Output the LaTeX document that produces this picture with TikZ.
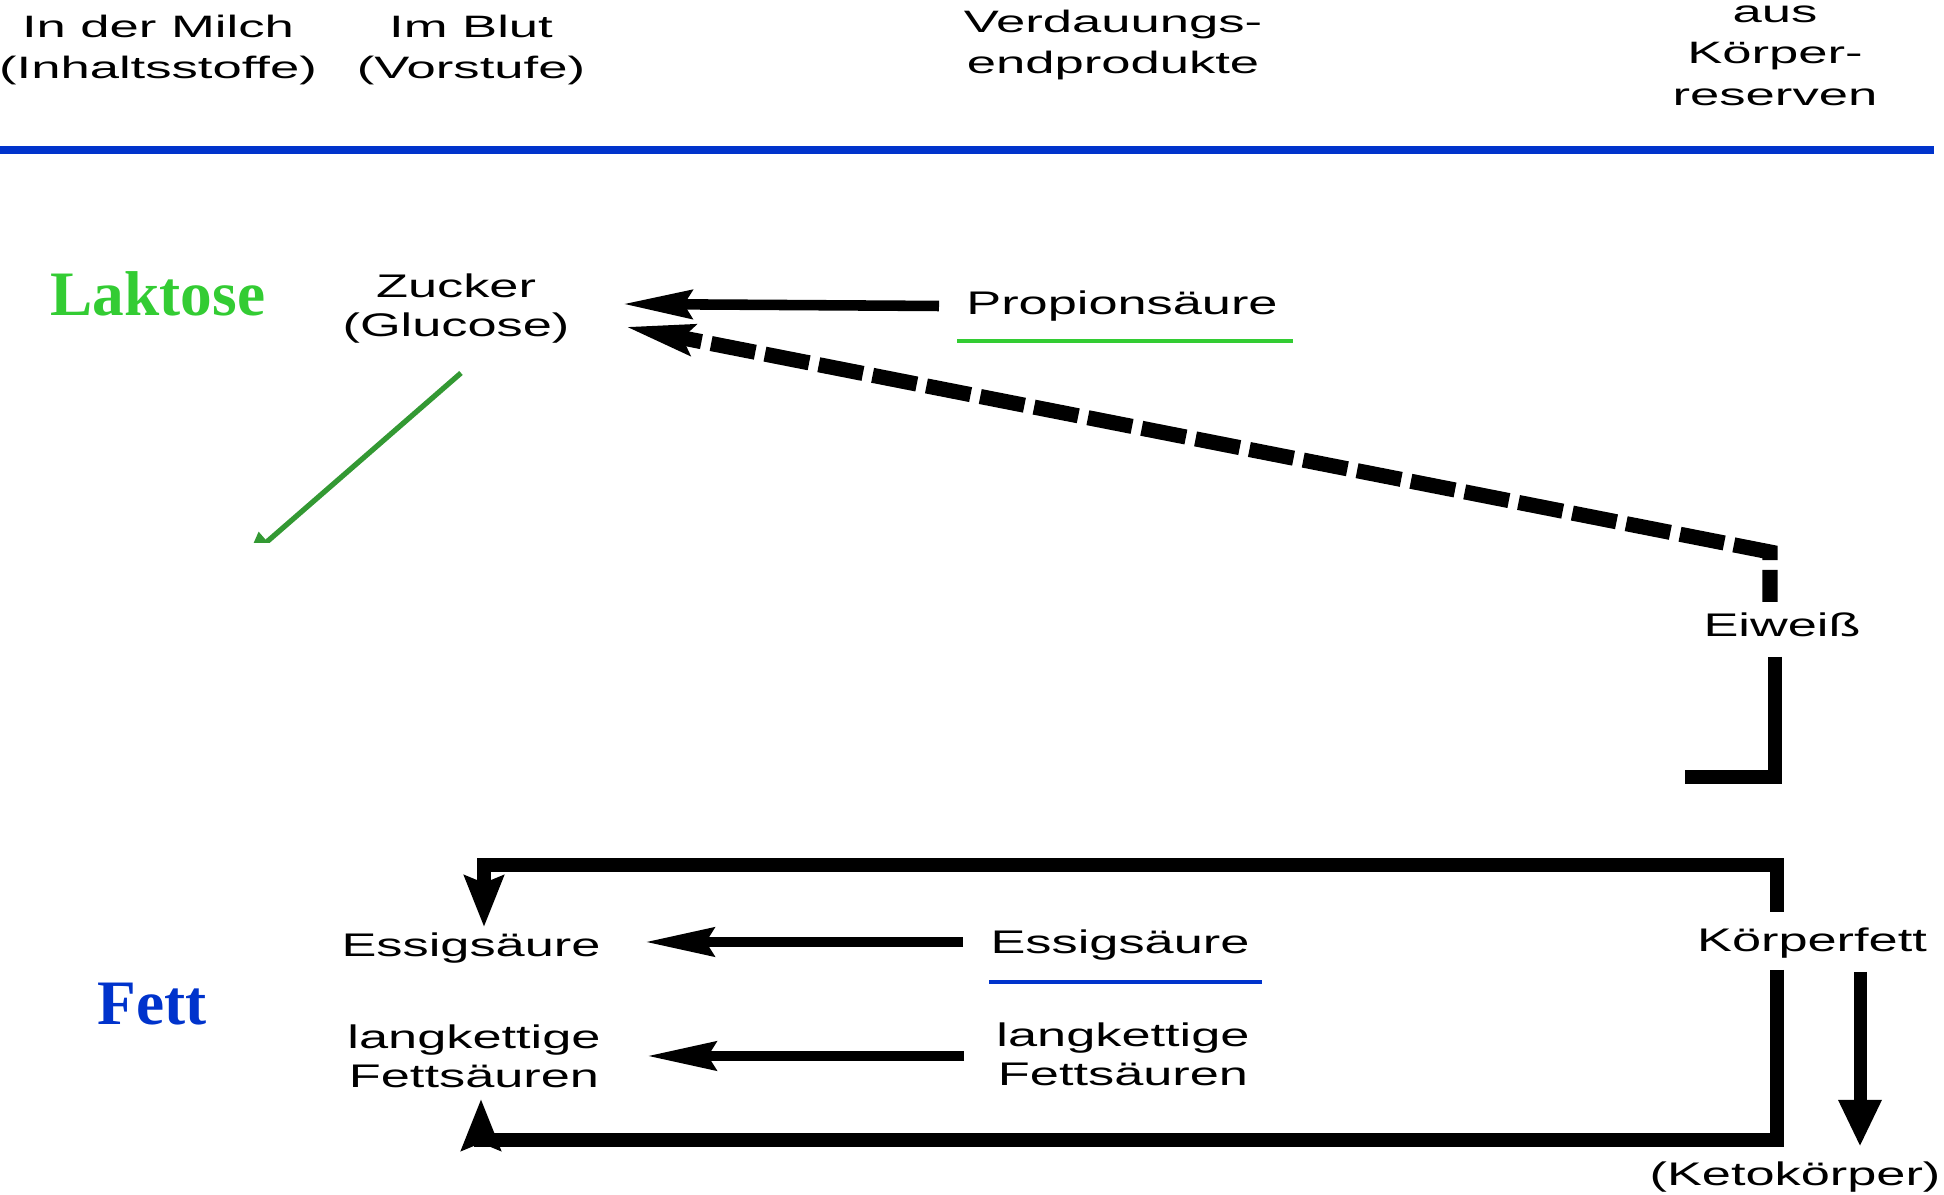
\documentclass[tikz,border=0pt]{standalone}
\usepackage{fontspec}
\setmainfont{Liberation Sans}
\newfontfamily\mainwide[FakeStretch=1.6]{Liberation Sans}
\newfontfamily\headwide[FakeStretch=1.7]{Liberation Sans}
\newfontfamily\titleserif{Liberation Serif}
\usetikzlibrary{arrows.meta}
\definecolor{lgreen}{HTML}{33CC33}
\definecolor{dgreen}{HTML}{339933}
\definecolor{hblue}{HTML}{0033CC}
\begin{document}
\begin{tikzpicture}[x=0.01cm,y=-0.01cm,
  mainlbl/.style={font=\mainwide\fontsize{9.3pt}{11.2pt}\selectfont, inner sep=0pt, align=center},
  headlbl/.style={font=\headwide\fontsize{8.8pt}{11.8pt}\selectfont, inner sep=0pt, align=center},
  bigword/.style={font=\titleserif\bfseries\fontsize{18pt}{20pt}\selectfont, inner sep=0pt},
  flowarrow/.style={line width=3pt, -{Stealth[length=19.5pt,width=8pt,inset=2.2pt]}},
  loopline/.style={line width=3.9pt, line join=miter},
  looparrow/.style={loopline, -{Stealth[length=14.5pt,width=11pt,inset=2pt]}},
  dasharrow/.style={line width=4.3pt, line join=miter, dash pattern=on 12.8pt off 2.8pt, dash phase=3.7pt, -{Stealth[length=19.5pt,width=8pt,inset=2.2pt]}},
  hdrule/.style={line width=2.5pt, hblue},
  uline/.style={line width=1.4pt}
]
\useasboundingbox (0,0) rectangle (1944,1195);

% header
\node[headlbl, anchor=north] (hmilch) at (158,14) {In der Milch\\(Inhaltsstoffe)};
\node[headlbl, anchor=north] (hblut) at (471,14) {Im Blut\\(Vorstufe)};
\node[headlbl, anchor=north] (hverd) at (1113,9) {Verdauungs-\\endprodukte};
\node[headlbl, anchor=north] (hres) at (1775,5) {aus\\Körper-\\reserven};
\draw[hdrule] (0,150) -- (1934,150);

% big labels
\node[bigword, text=lgreen, anchor=base west] (lakt) at (50,316) {Laktose};
\node[bigword, text=hblue, anchor=base west] (fett) at (97,1025) {Fett};

% text nodes
\node[mainlbl, anchor=north] (zuck) at (456,273) {Zucker\\(Glucose)};
\node[mainlbl, anchor=base] (prop) at (1122,315) {Propionsäure};
\node[mainlbl, anchor=base] (eiw) at (1782,637) {Eiweiß};
\node[mainlbl, anchor=base] (kfett) at (1812,952) {Körperfett};
\node[mainlbl, anchor=base] (keto) at (1795,1186) {(Ketokörper)};
\node[mainlbl, anchor=base] (essL) at (471,957) {Essigsäure};
\node[mainlbl, anchor=base] (essR) at (1120,954) {Essigsäure};
\node[mainlbl, anchor=north] (langL) at (474,1024) {langkettige\\Fettsäuren};
\node[mainlbl, anchor=north] (langR) at (1123,1022) {langkettige\\Fettsäuren};

% underlines
\draw[uline, lgreen] ([shift={(-165,26)}]prop.base) -- ([shift={(171,26)}]prop.base);
\draw[uline, hblue] ([shift={(-131,28)}]essR.base) -- ([shift={(142,28)}]essR.base);

% upper connectors
\draw[flowarrow] ([shift={(-183,-9)}]prop.base) -- ([shift={(167,31)}]zuck.north);
\draw[dasharrow] ([shift={(-12,-35)}]eiw.base) -- ++(0,-50) -- ([shift={(166,53)}]zuck.north);
\coordinate (lfree) at (1685,777);
\draw[loopline] ([shift={(-7,20)}]eiw.base) |- (lfree);

\begin{scope}
  \clip (0,0) rectangle (1944,543);
  \coordinate (gfree) at (246,560);
  \draw[line width=1.5pt, dgreen, -{Triangle[length=8pt,width=7pt]}] ([shift={(5,100)}]zuck.north) -- (gfree);
\end{scope}

% lower connectors
\draw[looparrow] ([shift={(-35,-40)}]kfett.base) -- ++(0,-47) -| ([shift={(13,-30)}]essL.base);
\draw[looparrow] ([shift={(-35,18)}]kfett.base) -- ++(0,170) -| ([shift={(7,75)}]langL.north);
\draw[line width=3.7pt, -{Triangle[length=13.4pt,width=11.4pt]}] ([shift={(48,20)}]kfett.base) -- ([shift={(65,-39)}]keto.base);
\draw[flowarrow] ([shift={(-157,-12)}]essR.base) -- ([shift={(174,-15)}]essL.base);
\draw[flowarrow] ([shift={(-159,34)}]langR.north) -- ([shift={(173,32)}]langL.north);
\end{tikzpicture}
\end{document}
